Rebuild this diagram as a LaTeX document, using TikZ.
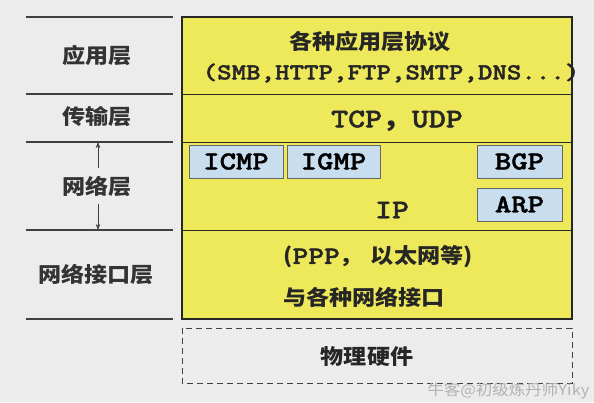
\documentclass[tikz,border=0pt]{standalone}
\usepackage{fontspec}
\newfontfamily\cjk{Noto Sans CJK SC}[FakeStretch=1.1]
\setmonofont{lmmono10-regular.otf}[BoldFont=lmmonolt10-bold.otf, BoldFeatures={FakeBold=1.6}, FakeStretch=1.2]
\usetikzlibrary{arrows.meta,positioning}
\definecolor{layeryellow}{RGB}{238,233,90}
\definecolor{protoblue}{RGB}{200,221,238}
\definecolor{bggray}{RGB}{236,236,236}

\begin{document}
\begin{tikzpicture}[
x=1pt, y=-1pt,
layer/.style={font=\cjk\bfseries\fontsize{21}{24}\selectfont, text=black!80},
sep/.style={draw=black!75, line width=1.3pt},
proto/.style={draw=black!60, fill=protoblue, line width=0.6pt, inner sep=0pt, font=\ttfamily\bfseries\fontsize{26}{28}\selectfont},
boxtext/.style={font=\cjk\bfseries\fontsize{21}{24}\selectfont, text=black!85},
>=Stealth
]
\useasboundingbox (0,0) rectangle (594,402);
\fill[bggray] (0,0) rectangle (594,402);

% left column
\foreach \y/\n in {17/a, 94/b, 142/c, 230/d, 319/e}{
  \coordinate (l\n) at (26,\y);
  \coordinate (r\n) at (173,\y);
  \draw[sep] (l\n) -- (r\n);
}
\node[layer] (app) at (97,55) {应用层};
\node[layer] (trans) at (97,117) {传输层};
\node[layer] (net) at (97,186) {网络层};
\node[layer] (link) at (96,274) {网络接口层};
\coordinate (netup) at (98,142);
\coordinate (netdown) at (98,230);
\draw[->, black!75, line width=0.7pt] (net.north -| netup) ++(0,-4) -- (netup);
\draw[->, black!75, line width=0.7pt] (net.south -| netdown) ++(0,4) -- (netdown);

% right stack
\fill[layeryellow] (182,17) rectangle (572,319);
\draw[black!85, line width=1pt] (182,94) -- (572,94) (182,142) -- (572,142) (182,230) -- (572,230);
\draw[black!85, line width=1.6pt] (182,17) rectangle (572,319);
\draw[black!75, dashed, dash pattern=on 6pt off 4pt, line width=0.9pt] (182,328) rectangle (572,383);

\node[boxtext] (apptitle) at (370,42) {各种应用层协议};
\node[font=\ttfamily\bfseries\fontsize{23}{25}\selectfont, text=black!85] (applist) at (391,73) {(SMB,HTTP,FTP,SMTP,DNS...)};
\node[font=\ttfamily\bfseries\fontsize{27}{30}\selectfont, text=black!85] (tcp) at (397,121) {TCP{\cjk，}UDP};

\node[proto, minimum width=94pt, minimum height=33pt] (icmp) at (236,161.5) {ICMP};
\node[proto, minimum width=93pt, minimum height=33pt] (igmp) at (333.5,161.5) {IGMP};
\node[proto, minimum width=85pt, minimum height=33pt] (bgp) at (519.5,161.5) {BGP};
\node[proto, minimum width=85pt, minimum height=33pt] (arp) at (519.5,204.5) {ARP};
\node[font=\ttfamily\bfseries\fontsize{27}{30}\selectfont, text=black!85] (ip) at (392,210) {IP};

\node[boxtext] (ppp) at (378,257) {({\ttfamily\fontsize{25}{28}\selectfont PPP}{\cjk，}\hspace{8pt}以太网等)};
\node[boxtext] (iface) at (364,297) {与各种网络接口};
\node[boxtext] (phys) at (367,357) {物理硬件};

\node[font=\cjk\fontsize{15}{16}\selectfont, text=black!30, anchor=east] (mark) at (593,391) {牛客@初级炼丹师Yiky};
\end{tikzpicture}
\end{document}
